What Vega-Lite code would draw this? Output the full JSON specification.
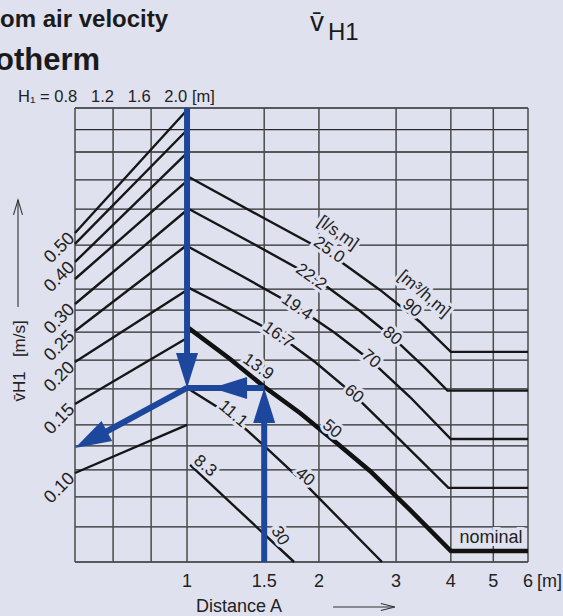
{
  "$schema": "https://vega.github.io/schema/vega-lite/v6.json",
  "width": 453,
  "height": 454,
  "autosize": {"type": "none"},
  "padding": {"left": 75, "top": 108, "right": 35, "bottom": 54},
  "background": "#dfe1ef",
  "config": {
    "view": {"stroke": null},
    "font": "Liberation Sans"
  },
  "datasets": {
    "grid_h": [{"v":1.157},{"v":1.0},{"v":0.861},{"v":0.714},{"v":0.587},{"v":0.461},{"v":0.343},{"v":0.298},{"v":0.257},{"v":0.213},{"v":0.1755},{"v":0.1378},{"v":0.1197},{"v":0.1019},{"v":0.085},{"v":0.0695},{"v":0.0549}],
    "grid_v": [{"d":0.555},{"d":0.678},{"d":0.828},{"d":1},{"d":1.5},{"d":2},{"d":3},{"d":4},{"d":5},{"d":6}],
    "xlabels": [{"d":1,"t":"1"},{"d":1.5,"t":"1.5"},{"d":2,"t":"2"},{"d":3,"t":"3"},{"d":4,"t":"4"},{"d":5,"t":"5"},{"d":6,"t":"6"}],
    "h1_lines": [
      {"d":0.555,"v":0.5,"d2":1,"v2":1.142},
      {"d":0.555,"v":0.4644,"d2":1,"v2":0.998},
      {"d":0.555,"v":0.4116,"d2":1,"v2":0.8556},
      {"d":0.555,"v":0.3671,"d2":1,"v2":0.7089},
      {"d":0.555,"v":0.3104,"d2":1,"v2":0.5834},
      {"d":0.555,"v":0.259,"d2":1,"v2":0.4613},
      {"d":0.555,"v":0.2103,"d2":1,"v2":0.3411},
      {"d":0.555,"v":0.1586,"d2":1,"v2":0.2471},
      {"d":0.555,"v":0.0998,"d2":1,"v2":0.1378}
    ],
    "curves": [
      {"flow":"90","d":1,"v":0.7331},{"flow":"90","d":1.4674,"v":0.5604},{"flow":"90","d":2.1203,"v":0.4343},{"flow":"90","d":2.7569,"v":0.3411},{"flow":"90","d":3.4018,"v":0.2751},{"flow":"90","d":4,"v":0.225},{"flow":"90","d":6,"v":0.225},
      {"flow":"80","d":1,"v":0.5913},{"flow":"80","d":1.3924,"v":0.4707},{"flow":"80","d":1.9597,"v":0.3696},{"flow":"80","d":2.4821,"v":0.2962},{"flow":"80","d":2.9376,"v":0.2487},{"flow":"80","d":3.4924,"v":0.202},{"flow":"80","d":3.93,"v":0.1735},{"flow":"80","d":6,"v":0.1735},
      {"flow":"70","d":1,"v":0.4582},{"flow":"70","d":1.321,"v":0.3771},{"flow":"70","d":1.7825,"v":0.3042},{"flow":"70","d":2.1765,"v":0.2555},{"flow":"70","d":2.6159,"v":0.2131},{"flow":"70","d":3.2277,"v":0.1662},{"flow":"70","d":4,"v":0.1254},{"flow":"70","d":6,"v":0.1254},
      {"flow":"60","d":1,"v":0.348},{"flow":"60","d":1.2536,"v":0.3002},{"flow":"60","d":1.605,"v":0.2538},{"flow":"60","d":1.9597,"v":0.2103},{"flow":"60","d":2.392,"v":0.1697},{"flow":"60","d":3.0626,"v":0.1246},{"flow":"60","d":3.95,"v":0.0903},{"flow":"60","d":6,"v":0.0903},
      {"flow":"50","d":1,"v":0.266},{"flow":"50","d":1.2536,"v":0.2146},{"flow":"50","d":1.5,"v":0.178},{"flow":"50","d":1.811,"v":0.1493},{"flow":"50","d":2.154,"v":0.1246},{"flow":"50","d":2.6159,"v":0.1012},{"flow":"50","d":3.2277,"v":0.0779},{"flow":"50","d":4,"v":0.0591},{"flow":"50","d":6,"v":0.0591},
      {"flow":"40","d":1,"v":0.1766},{"flow":"40","d":1.2536,"v":0.1473},{"flow":"40","d":1.5,"v":0.1197},{"flow":"40","d":1.859,"v":0.0927},{"flow":"40","d":2.786,"v":0.0549},
      {"flow":"30","d":1.016,"v":0.1054},{"flow":"30","d":1.755,"v":0.0549}
    ],
    "labels_a": [
      {"t":"[l/s,m]","d":2.211,"v":0.5},
      {"t":"25.0","d":2.109,"v":0.446},
      {"t":"22.2","d":1.919,"v":0.3721},
      {"t":"19.4","d":1.7825,"v":0.3042},
      {"t":"16.7","d":1.6134,"v":0.2521},
      {"t":"13.9","d":1.4525,"v":0.2034}
    ],
    "labels_b": [
      {"t":"11.1","d":1.2735,"v":0.1483},
      {"t":"8.3","d":1.0992,"v":0.1046},
      {"t":"[m³/h,m]","d":3.474,"v":0.332},
      {"t":"90","d":3.262,"v":0.3022},
      {"t":"80","d":2.9376,"v":0.2504},
      {"t":"70","d":2.6297,"v":0.2146},
      {"t":"60","d":2.405,"v":0.1697},
      {"t":"50","d":2.1427,"v":0.1341},
      {"t":"40","d":1.859,"v":0.0972}
    ],
    "labels_c": [
      {"t":"30","d":1.6304,"v":0.0654}
    ],
    "ylabels": [
      {"t":"0.50","v":0.5},{"t":"0.40","v":0.4116},{"t":"0.30","v":0.3104},{"t":"0.25","v":0.259},{"t":"0.20","v":0.2103},{"t":"0.15","v":0.1586},{"t":"0.10","v":0.0998}
    ],
    "blue_shafts": [
      {"d":1,"v":1.157,"d2":1,"v2":0.197},
      {"d":1.5,"v":0.0549,"d2":1.5,"v2":0.163},
      {"d":1.5,"v":0.1766,"d2":1,"v2":0.1766},
      {"d":1,"v":0.1766,"d2":0.6332,"v2":0.1288}
    ]
  },
  "layer": [
    {
      "data": {"name": "grid_h"},
      "mark": {"type": "rule", "color": "#2a2a2a", "strokeWidth": 1.3},
      "encoding": {
        "y": {"field": "v", "type": "quantitative",
          "scale": {"type": "log", "domain": [0.0549, 1.157], "nice": false},
          "axis": null}
      }
    },
    {
      "data": {"name": "grid_v"},
      "mark": {"type": "rule", "color": "#4a4a4a", "strokeWidth": 1.5},
      "encoding": {
        "x": {"field": "d", "type": "quantitative",
          "scale": {"type": "log", "domain": [0.555, 6], "nice": false},
          "axis": null}
      }
    },
    {
      "data": {"name": "h1_lines"},
      "mark": {"type": "rule", "color": "#161616", "strokeWidth": 2.4},
      "encoding": {
        "x": {"field": "d", "type": "quantitative", "axis": null},
        "y": {"field": "v", "type": "quantitative", "axis": null},
        "x2": {"field": "d2"},
        "y2": {"field": "v2"}
      }
    },
    {
      "data": {"name": "curves"},
      "transform": [{"filter": "datum.flow != '50'"}],
      "mark": {"type": "line", "color": "#161616", "strokeWidth": 2.4},
      "encoding": {
        "x": {"field": "d", "type": "quantitative", "axis": null},
        "y": {"field": "v", "type": "quantitative", "axis": null},
        "detail": {"field": "flow"}
      }
    },
    {
      "data": {"name": "curves"},
      "transform": [{"filter": "datum.flow == '50'"}],
      "mark": {"type": "line", "color": "#111", "strokeWidth": 4.6},
      "encoding": {
        "x": {"field": "d", "type": "quantitative", "axis": null},
        "y": {"field": "v", "type": "quantitative", "axis": null}
      }
    },
    {
      "data": {"name": "labels_a"},
      "encoding": {
        "x": {"field": "d", "type": "quantitative", "axis": null},
        "y": {"field": "v", "type": "quantitative", "axis": null},
        "text": {"field": "t"}
      },
      "layer": [
        {"mark": {"type": "text", "angle": 35, "fontSize": 17, "align": "center", "baseline": "middle", "fill": "#dfe1ef", "stroke": "#dfe1ef", "strokeWidth": 6}},
        {"mark": {"type": "text", "angle": 35, "fontSize": 17, "align": "center", "baseline": "middle", "fill": "#222"}}
      ]
    },
    {
      "data": {"name": "labels_b"},
      "encoding": {
        "x": {"field": "d", "type": "quantitative", "axis": null},
        "y": {"field": "v", "type": "quantitative", "axis": null},
        "text": {"field": "t"}
      },
      "layer": [
        {"mark": {"type": "text", "angle": 40, "fontSize": 17, "align": "center", "baseline": "middle", "fill": "#dfe1ef", "stroke": "#dfe1ef", "strokeWidth": 6}},
        {"mark": {"type": "text", "angle": 40, "fontSize": 17, "align": "center", "baseline": "middle", "fill": "#222"}}
      ]
    },
    {
      "data": {"name": "labels_c"},
      "encoding": {
        "x": {"field": "d", "type": "quantitative", "axis": null},
        "y": {"field": "v", "type": "quantitative", "axis": null},
        "text": {"field": "t"}
      },
      "layer": [
        {"mark": {"type": "text", "angle": 58, "fontSize": 17, "align": "center", "baseline": "middle", "fill": "#dfe1ef", "stroke": "#dfe1ef", "strokeWidth": 6}},
        {"mark": {"type": "text", "angle": 58, "fontSize": 17, "align": "center", "baseline": "middle", "fill": "#222"}}
      ]
    },
    {
      "data": {"values": [{"t": "nominal", "d": 4.94, "v": 0.0645}]},
      "encoding": {
        "x": {"field": "d", "type": "quantitative", "axis": null},
        "y": {"field": "v", "type": "quantitative", "axis": null},
        "text": {"field": "t"}
      },
      "layer": [
        {"mark": {"type": "text", "fontSize": 18, "align": "center", "baseline": "middle", "fill": "#dfe1ef", "stroke": "#dfe1ef", "strokeWidth": 6}},
        {"mark": {"type": "text", "fontSize": 18, "align": "center", "baseline": "middle", "fill": "#222"}}
      ]
    },
    {
      "data": {"name": "ylabels"},
      "mark": {"type": "text", "angle": -45, "fontSize": 18, "align": "right", "baseline": "middle", "dx": -4, "fill": "#222"},
      "encoding": {
        "x": {"datum": 0.555, "type": "quantitative", "axis": null},
        "y": {"field": "v", "type": "quantitative", "axis": null},
        "text": {"field": "t"}
      }
    },
    {
      "data": {"name": "xlabels"},
      "mark": {"type": "text", "fontSize": 18, "align": "center", "baseline": "alphabetic", "dy": 25, "fill": "#222"},
      "encoding": {
        "x": {"field": "d", "type": "quantitative", "axis": null},
        "y": {"datum": 0.0549, "type": "quantitative", "axis": null},
        "text": {"field": "t"}
      }
    },
    {
      "data": {"values": [{"t": "[m]"}]},
      "mark": {"type": "text", "fontSize": 18, "align": "left", "baseline": "alphabetic", "dx": 9, "dy": 25, "fill": "#222"},
      "encoding": {"x": {"datum": 6, "type": "quantitative", "axis": null}, "y": {"datum": 0.0549, "type": "quantitative", "axis": null}, "text": {"field": "t"}}
    },
    {
      "data": {"values": [{"t": "Distance A"}]},
      "mark": {"type": "text", "fontSize": 18, "align": "center", "baseline": "alphabetic", "dy": 50, "fill": "#222"},
      "encoding": {"x": {"datum": 1.314, "type": "quantitative", "axis": null}, "y": {"datum": 0.0549, "type": "quantitative", "axis": null}, "text": {"field": "t"}}
    },
    {
      "data": {"values": [{"t": "v\u0304H1\u00a0\u00a0\u00a0[m/s]"}]},
      "mark": {"type": "text", "fontSize": 17, "angle": 270, "align": "center", "baseline": "alphabetic", "xOffset": -50, "fill": "#222"},
      "encoding": {"x": {"datum": 0.555, "type": "quantitative", "axis": null}, "y": {"datum": 0.2118, "type": "quantitative", "axis": null}, "text": {"field": "t"}}
    },
    {
      "data": {"values": [{"t": "om air velocity"}]},
      "mark": {"type": "text", "fontSize": 24, "fontWeight": "bold", "align": "left", "baseline": "alphabetic", "dx": -75, "dy": -81, "fill": "#1a1a1a"},
      "encoding": {"x": {"datum": 0.555, "type": "quantitative", "axis": null}, "y": {"datum": 1.157, "type": "quantitative", "axis": null}, "text": {"field": "t"}}
    },
    {
      "data": {"values": [{"t": "otherm"}]},
      "mark": {"type": "text", "fontSize": 31, "fontWeight": "bold", "align": "left", "baseline": "alphabetic", "dx": -80, "dy": -38, "fill": "#1a1a1a"},
      "encoding": {"x": {"datum": 0.555, "type": "quantitative", "axis": null}, "y": {"datum": 1.157, "type": "quantitative", "axis": null}, "text": {"field": "t"}}
    },
    {
      "data": {"values": [{"t": "v\u0304"}]},
      "mark": {"type": "text", "fontSize": 28, "align": "left", "baseline": "alphabetic", "dx": 235, "dy": -77, "fill": "#1a1a1a"},
      "encoding": {"x": {"datum": 0.555, "type": "quantitative", "axis": null}, "y": {"datum": 1.157, "type": "quantitative", "axis": null}, "text": {"field": "t"}}
    },
    {
      "data": {"values": [{"t": "H1"}]},
      "mark": {"type": "text", "fontSize": 24, "align": "left", "baseline": "alphabetic", "dx": 253, "dy": -68, "fill": "#1a1a1a"},
      "encoding": {"x": {"datum": 0.555, "type": "quantitative", "axis": null}, "y": {"datum": 1.157, "type": "quantitative", "axis": null}, "text": {"field": "t"}}
    },
    {
      "data": {"values": [{"t": "H\u2081 = 0.8\u00a0\u00a0\u00a01.2\u00a0\u00a0\u00a01.6\u00a0\u00a0\u00a02.0 [m]"}]},
      "mark": {"type": "text", "fontSize": 16.5, "align": "left", "baseline": "alphabetic", "dx": -57, "dy": -6, "fill": "#222"},
      "encoding": {"x": {"datum": 0.555, "type": "quantitative", "axis": null}, "y": {"datum": 1.157, "type": "quantitative", "axis": null}, "text": {"field": "t"}}
    },
    {
      "data": {"values": [{}]},
      "mark": {"type": "rule", "color": "#333", "strokeWidth": 1.1, "yOffset": 45},
      "encoding": {"x": {"datum": 2.154, "type": "quantitative", "axis": null}, "x2": {"datum": 2.98}, "y": {"datum": 0.0549, "type": "quantitative", "axis": null}}
    },
    {
      "data": {"values": [{}]},
      "mark": {"type": "point", "shape": "M-0.5,2L0,0L0.5,2", "filled": false, "color": "#333", "strokeWidth": 1.1, "size": 196, "angle": 90, "yOffset": 45, "opacity": 1},
      "encoding": {"x": {"datum": 2.98, "type": "quantitative", "axis": null}, "y": {"datum": 0.0549, "type": "quantitative", "axis": null}}
    },
    {
      "data": {"values": [{}]},
      "mark": {"type": "rule", "color": "#333", "strokeWidth": 1.1, "xOffset": -57},
      "encoding": {"x": {"datum": 0.555, "type": "quantitative", "axis": null}, "y": {"datum": 0.3042, "type": "quantitative", "axis": null}, "y2": {"datum": 0.624}}
    },
    {
      "data": {"values": [{}]},
      "mark": {"type": "point", "shape": "M-0.6,2L0,0L0.6,2", "filled": false, "color": "#333", "strokeWidth": 1.1, "size": 225, "angle": 0, "xOffset": -57, "opacity": 1},
      "encoding": {"x": {"datum": 0.555, "type": "quantitative", "axis": null}, "y": {"datum": 0.624, "type": "quantitative", "axis": null}}
    },
    {
      "data": {"name": "blue_shafts"},
      "mark": {"type": "rule", "color": "#1c479c", "strokeWidth": 6},
      "encoding": {
        "x": {"field": "d", "type": "quantitative", "axis": null},
        "y": {"field": "v", "type": "quantitative", "axis": null},
        "x2": {"field": "d2"},
        "y2": {"field": "v2"}
      }
    },
    {
      "data": {"values": [{"d": 1, "v": 0.1766}]},
      "mark": {"type": "point", "shape": "M0,0L0.63,2L-0.63,2Z", "filled": true, "color": "#1c479c", "strokeWidth": 0, "size": 1225, "angle": 180, "opacity": 1},
      "encoding": {"x": {"field": "d", "type": "quantitative", "axis": null}, "y": {"field": "v", "type": "quantitative", "axis": null}}
    },
    {
      "data": {"values": [{"d": 1.5, "v": 0.1766}]},
      "mark": {"type": "point", "shape": "M0,0L0.63,2L-0.63,2Z", "filled": true, "color": "#1c479c", "strokeWidth": 0, "size": 1225, "angle": 0, "opacity": 1},
      "encoding": {"x": {"field": "d", "type": "quantitative", "axis": null}, "y": {"field": "v", "type": "quantitative", "axis": null}}
    },
    {
      "data": {"values": [{"d": 1.1404, "v": 0.1766}]},
      "mark": {"type": "point", "shape": "M0,0L0.63,2L-0.63,2Z", "filled": true, "color": "#1c479c", "strokeWidth": 0, "size": 1225, "angle": 270, "opacity": 1},
      "encoding": {"x": {"field": "d", "type": "quantitative", "axis": null}, "y": {"field": "v", "type": "quantitative", "axis": null}}
    },
    {
      "data": {"values": [{"d": 0.555, "v": 0.1181}]},
      "mark": {"type": "point", "shape": "M0,0L0.63,2L-0.63,2Z", "filled": true, "color": "#1c479c", "strokeWidth": 0, "size": 1300, "angle": 242, "opacity": 1},
      "encoding": {"x": {"field": "d", "type": "quantitative", "axis": null}, "y": {"field": "v", "type": "quantitative", "axis": null}}
    }
  ]
}
